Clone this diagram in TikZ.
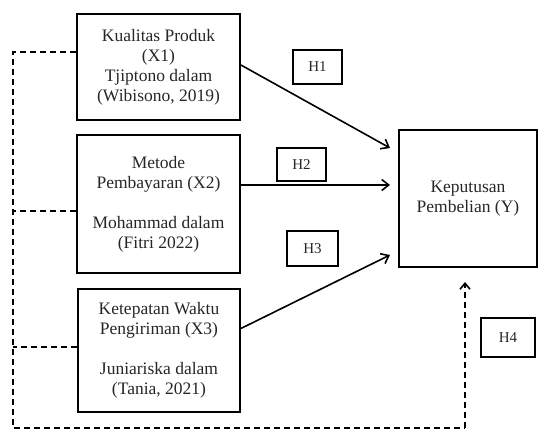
\documentclass[tikz,border=0pt]{standalone}
\usepackage{fontspec}
\setmainfont{Liberation Serif}
\usetikzlibrary{arrows.meta}
\begin{document}
\begin{tikzpicture}[x=1pt,y=1pt,
  var/.style={draw, line width=1.8pt, align=center, inner sep=2pt,
    text=black!85, font=\fontsize{17.5}{20}\selectfont},
  hyp/.style={draw, line width=1.8pt, inner sep=2pt,
    text=black!85, font=\fontsize{15}{17}\selectfont},
  effect/.style={line width=1.6pt, -{Straight Barb[length=7pt,width=11pt]}},
  link/.style={line width=1.6pt, dash pattern=on 6pt off 4pt}]
 \useasboundingbox (0,0) rectangle (540,430);

 % variables
 \node(x1)[var, minimum width=163, minimum height=106] at (158.5,363)
  {Kualitas Produk\\(X1)\\Tjiptono dalam\\(Wibisono, 2019)};
 \node(x2)[var, minimum width=163, minimum height=138] at (158.5,226)
  {Metode\\Pembayaran (X2)\\[20pt]Mohammad dalam\\(Fitri 2022)};
 \node(x3)[var, minimum width=162, minimum height=123] at (159,79.5)
  {Ketepatan Waktu\\Pengiriman (X3)\\[20pt]Juniariska dalam\\(Tania, 2021)};
 \node(y)[var, minimum width=138, minimum height=137] at (468,231.5)
  {Keputusan\\Pembelian (Y)};

 % hypotheses
 \node(h1)[hyp, minimum width=49, minimum height=34] at (317.5,363) {H1};
 \node(h2)[hyp, minimum width=49, minimum height=33] at (301.5,265.5) {H2};
 \node(h3)[hyp, minimum width=51, minimum height=35] at (312.5,181.5) {H3};
 \node(h4)[hyp, minimum width=54, minimum height=39] at (508,92.5) {H4};

 % arrow ends
 \coordinate (t1) at (390,282);
 \coordinate (t2) at (390,245);
 \coordinate (t3) at (390,175);
 \coordinate (t4) at (465,148);
 \coordinate (c1) at (13,378);
 \coordinate (c2) at (13,2);
 \coordinate (c3) at (465,2);

 \draw[effect] ([yshift=2]x1.east) -- (t1);
 \draw[effect] (x2.east |- t2) -- (t2);
 \draw[effect] ([yshift=22]x3.east) -- (t3);

 % simultaneous
 \draw[link] (x1.west |- c1) -- (c1) -- (c2) -- (c3);
 \draw[link,-{Straight Barb[length=6pt,width=10pt]}] (c3) -- (t4);
 \draw[link] ([yshift=-7]x2.west) -- ([yshift=-7]x2.west -| c1);
 \draw[link] ([yshift=3.5]x3.west) -- ([yshift=3.5]x3.west -| c1);
\end{tikzpicture}
\end{document}
